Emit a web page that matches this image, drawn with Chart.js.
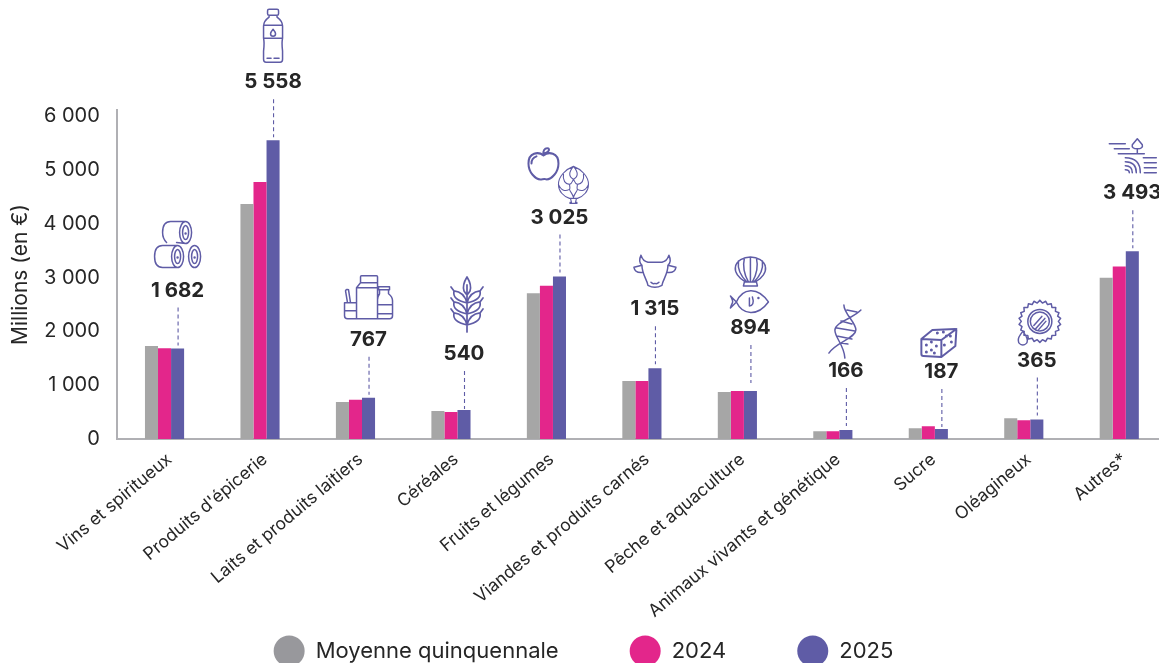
<!DOCTYPE html>
<html lang="fr">
<head>
<meta charset="utf-8">
<title>Exportations agroalimentaires</title>
<script src="https://cdn.jsdelivr.net/npm/chart.js@4"></script>
<style>
html,body{margin:0;padding:0;background:#fff;overflow:hidden;width:1159px;height:663px}
#wrap{position:relative;width:1159px;height:663px;overflow:hidden}
canvas{display:block}
</style>
</head>
<body>
<div id="wrap"><canvas id="c" width="1167" height="663"></canvas></div>
<script>
const categories = ["Vins et spiritueux","Produits d'épicerie","Laits et produits laitiers","Céréales","Fruits et légumes","Viandes et produits carnés","Pêche et aquaculture","Animaux vivants et génétique","Sucre","Oléagineux","Autres*"];
const moyenne = [1730,4370,690,520,2710,1080,875,145,200,386,3000];
const y2024   = [1690,4780,730,500,2850,1080,895,145,237,349,3210];
const y2025   = [1682,5558,767,540,3025,1315,894,166,187,365,3493];
const yTicks  = [0,1000,2000,3000,4000,5000,6000];
const seriesNames = ["Moyenne quinquennale","2024","2025"];
const seriesColors = ["#a6a6a6","#e3268b","#5f5ca6"];
const legendColors = ["#98989c","#e3268b","#5f5ca6"];
const axisTitle = "Millions (en €)";

const FONT = "Inter, 'Noto Sans', sans-serif";
const INK = "#262626", ICON = "#5f5ca6", AXIS = "#b0b0b4";
const fmt = v => String(v).replace(/\B(?=(\d{3})+$)/g, " ");

/* --- pictograms, in local pixels around their own centre --- */
const E = (x,y,rx,ry) => `M${x-rx} ${y}A${rx} ${ry} 0 1 0 ${x+rx} ${y}A${rx} ${ry} 0 1 0 ${x-rx} ${y}`;
const dot = (x,y) => E(x,y,.5,.5);
const icons = {
  barrels: E(8,-11,6,11)+E(8,-11,3,7)+dot(8,-10)+"M8 -22H-7Q-15 -22 -15 -11Q-15 -5 -11 -1M8 0L-1 -1"
    +E(0,13,6,11)+E(0,13,3,7)+dot(0,14)+"M0 2H-15Q-23 2 -23 13Q-23 24 -15 24H0"
    +E(17,13,6,11)+E(17,13,3,7)+dot(17,14),
  bottle: "M-4 -26H4Q5.5 -26 5.5 -24.5V-21.5Q5.5 -20 4 -20H-4Q-5.5 -20 -5.5 -21.5V-24.5Q-5.5 -26 -4 -26Z"
    +"M-4 -20V-18Q-9.5 -14 -9.5 -9V3Q-9 6 -9 8Q-9 12 -9.5 16V24Q-9.5 27 -7 27H7Q9.5 27 9.5 24V16Q9 12 9 8Q9 6 9.5 3V-9Q9.5 -14 4 -18V-20"
    +"M-9.5 -10H9.5M-9.5 3H9.5M-6 23H-2M1 23H6M0 -6Q-2.5 -3 -2.5 -1.5A2.5 2.5 0 0 0 2.5 -1.5Q2.5 -3 0 -6Z",
  dairy: "M-12 22V-9L-8 -14V-20Q-8 -21 -7 -21H8Q9 -21 9 -20V-14L9 -9V22M-8 -14H9M-12 -9H9"
    +"M10 -10H21V-7H10ZM11 -7V-3Q9 0 9 3V22M20 -7V-3Q24 0 24 4V19Q24 22 21 22H-21Q-24 22 -24 19V6H-13"
    +"M-24 6H-13M-24 14Q-18 14 -13 14M9 8H24M9 17H24M-21 6L-23 -6Q-22 -8 -20 -7L-18 6",
  wheat: (() => {
    let s = "M0 27V-20M0 -28Q5 -20 3 -14Q1 -11 0 -10Q-1 -11 -3 -14Q-5 -20 0 -28Z";
    for (const y of [-2,9,20]) for (const k of [-1,1]) {
      s += `M0 ${y}Q${k*3} ${y-11} ${k*13} ${y-12}Q${k*15} ${y-3} 0 ${y}Z M${k*13} ${y-12}L${k*16} ${y-16}`;
    }
    return s;
  })(),
  apple: "M0 -9C-5 -13 -15 -12 -15 -1C-15 8 -8 15 -3 15C-1 15 1 14 3 15C8 15 15 8 15 -1C15 -12 5 -13 0 -9Z"
    +"M0 -9C-1 -13 1 -17 5 -16C7 -14 3 -11 0 -11M-12 -1C-12 -5 -10 -7 -7 -8",
  artichoke: "M-4 15C-10 13 -15 8 -15 1C-15 -7 -8 -14 0 -17C8 -14 15 -7 15 1C15 8 10 13 4 15Z"
    +"M0 -17C-5 -11 -5 -7 0 -4C5 -7 5 -11 0 -17M-10 -9C-11 -3 -8 1 -4 1C-1 0 -1 -3 0 -4C1 -3 1 0 4 1C8 1 11 -3 10 -9"
    +"M-15 1C-12 8 -8 8 -4 6C-3 4 -4 2 -4 1M15 1C12 8 8 8 4 6C3 4 4 2 4 1M-4 6C-3 9 -1 10 0 14C1 10 3 9 4 6"
    +"M-3 15L-2 19H-3.5V20H3.5V19H2L3 15",
  cow: "M-14 -16Q-12 -10 -7 -9H7Q12 -10 14 -16Q17 -10 13 -6M-14 -16Q-17 -10 -13 -6"
    +"M-13 -6C-13 3 -8 8 -7 14Q0 18 7 14C8 8 13 3 13 -6"
    +"M-13 -6L-21 -4Q-20 2 -12 1M13 -6L21 -4Q20 2 12 1M-4 11Q-2 13 0 12Q2 13 4 11",
  shell: "M-5 10C-12 6 -16 0 -15 -5C-14 -11 -7 -15 0 -15C7 -15 14 -11 15 -5C16 0 12 6 5 10Z"
    +"M-6 10H6L7 14H-7ZM-2 10C-6 3 -8 -5 -6 -14M2 10C6 3 8 -5 6 -14M0 10V-15M-3.5 10C-11 3 -13 -3 -12 -11M3.5 10C11 3 13 -3 12 -11",
  fish: "M-13 0C-7 -14 8 -16 19 0C8 15 -7 13 -13 0ZM-13 0L-19 -6Q-16 -1 -17 1Q-18 3 -19 6Z"
    +"M0 -4V4C3 4 5 1 3 -5"+dot(9,-4),
  dna: "M0 -27C0 -18 12 -10 12 -2C12 6 -8 10 -15 21M17 -22C10 -14 -9 -10 -9 -2C-9 6 0 12 1 26"
    +"M3 -22L13 -20M-3 -11L8 -8M-7 -4L11 -1M-7 4L8 7M-3 11L4 12",
  cube: "M-17 -4L3 -3L3 14L-15 13Q-17 13 -17 11ZM-17 -4L-6 -13L17 -14Q18 -14 18 -13L17 3L3 14M3 -3L18 -14"
    +["-12,2","-7,7","-2,3","-12,9","-4,10","-7,-1","6,2","12,-7","13,-1","8,-7","5,-11","-1,-10"].map(p=>{const[a,b]=p.split(",");return dot(+a,+b)}).join(""),
  seal: (() => {
    let s = "";
    const n = 22;
    for (let i = 0; i <= n*2; i++) {
      const a = (i/(n*2))*Math.PI*2 - Math.PI/2;
      const r = i%2 ? 18.5 : 21;
      s += (i ? "L" : "M") + (r*Math.cos(a)+2).toFixed(1) + " " + (r*Math.sin(a)-2).toFixed(1);
    }
    s += E(2,-2,12,12)+E(2,-2,9.5,9.5)+"M-4 2L4 -7M-2 5L7 -5M1 6L8 -2";
    s += "M-15 8Q-20 14 -19.5 17A4.5 4.5 0 0 0 -10.5 17Q-10.5 14 -15 8Z";
    return s;
  })(),
  field: "M-23 -15H-7M-18 -10H-3M-14 -5H12M5 -5V-10M5 -10Q-1 -10 0 -14L5 -20L10 -14Q11 -10 5 -10"
    +"M-7 -1Q8 -1 8 14M-7 3Q4 3 4 14M-7 7Q0 7 0 14M-7 11Q-3 11 -3 14M11 -1H24M12 4H24M12 9H24M12 14H24",
};
/* which pictogram sits above which category, relative to its value label */
const pictos = [
  [["barrels",0,-46]],
  [["bottle",0,-46]],
  [["dairy",0,-42]],
  [["wheat",3,-48,1.7]],
  [["apple",-16,-52,2],["artichoke",14,-33,1.1]],
  [["cow",0,-37]],
  [["shell",0,-55],["fish",-1,-25]],
  [["dna",-2,-38]],
  [["cube",-3,-28,2]],
  [["seal",1,-36]],
  [["field",0,-33.5]],
];
const labelLift = [59,59,59,57,60,60,64,60,58,60,59];

const callouts = {
  id: "callouts",
  afterLayout(chart) {
    chart.legend.top = 569;
    chart.scales.x.bottom = 663;
  },
  afterDatasetsDraw(chart) {
    const ctx = chart.ctx;
    const bars = chart.getDatasetMeta(2).data;
    bars.forEach((bar, i) => {
      const x = bar.x, top = bar.y, ly = top - labelLift[i];
      ctx.save();
      ctx.strokeStyle = ICON; ctx.lineWidth = 1.1; ctx.setLineDash([4,3]);
      ctx.beginPath(); ctx.moveTo(x + .5, ly + 18); ctx.lineTo(x + .5, ly + 56); ctx.stroke();
      ctx.setLineDash([]);
      ctx.fillStyle = INK; ctx.font = "700 20.5px " + FONT;
      ctx.textAlign = "center"; ctx.textBaseline = "middle";
      ctx.fillText(fmt(y2025[i]), x, ly + 1);
      ctx.lineCap = "round"; ctx.lineJoin = "round";
      ctx.strokeStyle = ICON;
      for (const [name, dx, dy, lw] of pictos[i]) {
        ctx.save();
        ctx.translate(x + dx, ly + dy);
        ctx.lineWidth = lw || 1.5;
        ctx.stroke(new Path2D(icons[name]));
        ctx.restore();
      }
      ctx.restore();
    });
  }
};

new Chart(document.getElementById("c"), {
  type: "bar",
  data: {
    labels: categories,
    datasets: [moyenne, y2024, y2025].map((d, k) => ({
      label: seriesNames[k], data: d,
      backgroundColor: seriesColors[k], borderWidth: 0,
      barPercentage: 1, categoryPercentage: 0.41,
      pointStyle: "circle"
    }))
  },
  options: {
    responsive: false, animation: false, devicePixelRatio: 1,
    layout: { padding: { top: 110, left: 0, right: 0, bottom: 0 } },
    scales: {
      x: {
        grid: { display: false, drawTicks: false },
        border: { display: true, color: AXIS, width: 2 },
        ticks: { color: INK, font: { family: FONT, size: 17.5 }, minRotation: 40, maxRotation: 40, padding: 10, labelOffset: 5, autoSkip: false },
        afterFit(s) { s.height = 121; }
      },
      y: {
        min: 0, max: 6120,
        afterBuildTicks(s) { s.ticks = yTicks.map(value => ({ value })); },
        grid: { display: false, drawTicks: false },
        border: { display: true, color: AXIS, width: 2 },
        ticks: { color: INK, padding: 17, font: { family: FONT, size: 20 }, callback: v => fmt(v) },
        title: { display: true, text: axisTitle, color: INK, font: { family: FONT, size: 21 }, padding: { top: 8, bottom: 0 } },
        afterFit(s) { s.width = 116.8; }
      }
    },
    plugins: {
      tooltip: { enabled: false },
      legend: {
        position: "bottom",
        labels: {
          usePointStyle: true, pointStyleWidth: 31, padding: 71, color: INK,
          font: { family: FONT, size: 22 },
          generateLabels(chart) {
            return chart.data.datasets.map((d, i) => ({
              text: d.label, fillStyle: legendColors[i], strokeStyle: legendColors[i], lineWidth: 0,
              pointStyle: "circle", fontColor: INK, datasetIndex: i
            }));
          }
        }
      }
    }
  },
  plugins: [callouts]
});
</script>
</body>
</html>
